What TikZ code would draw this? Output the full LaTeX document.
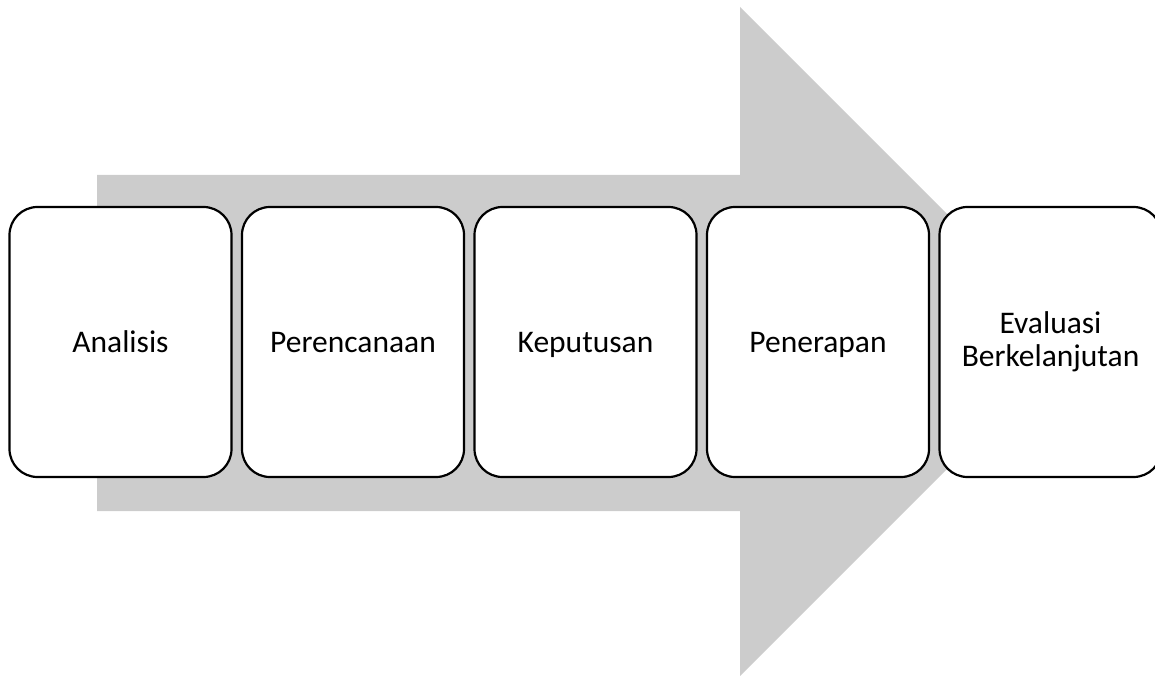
\documentclass[tikz,border=0pt]{standalone}
\usepackage{fontspec}
\setmainfont{Carlito}
\definecolor{arrowgray}{RGB}{204,204,204}
\begin{document}
\begin{tikzpicture}[x=1pt,y=-1pt,
  stagebox/.style={draw=black, fill=white, line width=2.2pt, rounded corners=28pt,
    minimum width=222pt, minimum height=270pt, align=center, inner sep=0pt,
    font=\fontsize{31.5}{33.5}\selectfont},
  oneline/.style={text height=22pt, text depth=2pt}]
  \useasboundingbox (0,0) rectangle (1155,676);
  % broad background arrow
  \fill[arrowgray] (97,175) -- (740,175) -- (740,7) -- (1074.5,341.5)
    -- (740,676) -- (740,511) -- (97,511) -- cycle;
  % process stages
  \node[stagebox, oneline] (s1) at (120.5,342) {Analisis};
  \node[stagebox, oneline] (s2) at (353,342) {Perencanaan};
  \node[stagebox, oneline] (s3) at (585.5,342) {Keputusan};
  \node[stagebox, oneline] (s4) at (818,342) {Penerapan};
  \node[stagebox] (s5) at (1050.5,342) {Evaluasi\\Berkelanjutan};
\end{tikzpicture}
\end{document}
